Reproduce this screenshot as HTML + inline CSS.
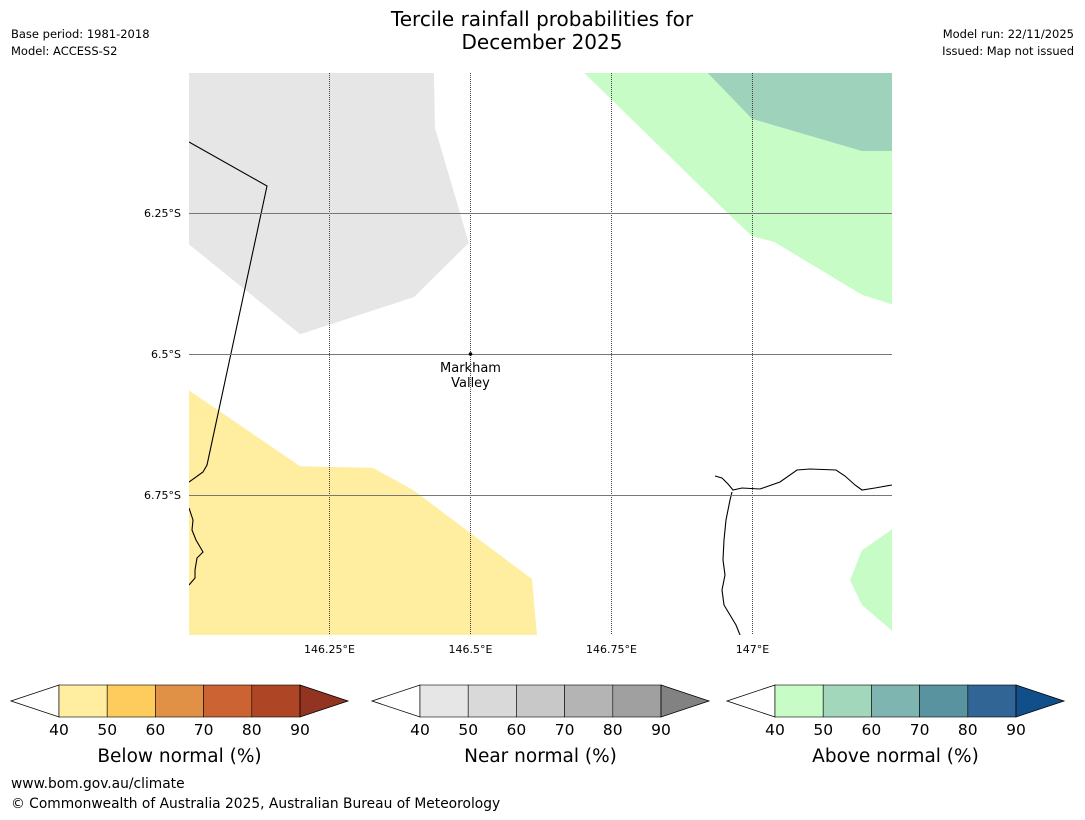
<!DOCTYPE html>
<html><head><meta charset="utf-8"><style>
body{margin:0;background:#fff;width:1085px;height:816px;overflow:hidden;font-family:"DejaVu Sans","Liberation Sans",sans-serif}
svg text{font-family:"DejaVu Sans","Liberation Sans",sans-serif}
</style></head><body>
<svg id="s" width="1085" height="816" xmlns="http://www.w3.org/2000/svg">
<text x="542" y="26" font-size="20" text-anchor="middle">Tercile rainfall probabilities for</text>
<text x="542" y="49" font-size="20" text-anchor="middle">December 2025</text>
<text x="11" y="38" font-size="11.5">Base period: 1981-2018</text>
<text x="11" y="55" font-size="11.5">Model: ACCESS-S2</text>
<text x="1074" y="38" font-size="11.5" text-anchor="end">Model run: 22/11/2025</text>
<text x="1074" y="55" font-size="11.5" text-anchor="end">Issued: Map not issued</text>
<defs><clipPath id="mc"><rect x="189" y="73" width="703" height="562"/></clipPath></defs>
<g id="map" clip-path="url(#mc)"></g>
<g id="grid"></g>
<g id="bars"></g>
<text x="11" y="788" font-size="13.8">www.bom.gov.au/climate</text>
<text x="11" y="808" font-size="13.8">© Commonwealth of Australia 2025, Australian Bureau of Meteorology</text>
</svg>
<script>
const NS="http://www.w3.org/2000/svg";
const lonTicks=[146.25,146.5,146.75,147.0];
const lonLabels=["146.25°E","146.5°E","146.75°E","147°E"];
const latTicks=[6.25,6.5,6.75];
const latLabels=["6.25°S","6.5°S","6.75°S"];
const regionNear40=[[146.001,6.0],[146.435,6.0],[146.437,6.099],[146.497,6.303],[146.400,6.399],[146.198,6.465],[146.0,6.305]];
const regionBelow40=[[146.0,6.564],[146.198,6.699],[146.327,6.702],[146.398,6.741],[146.609,6.899],[146.618,7.0],[146.0,7.0]];
const regionAbove40a=[[146.700,6.0],[147.25,6.0],[147.25,6.413],[147.194,6.395],[147.038,6.301],[146.999,6.291],[146.960,6.254]];
const regionAbove50=[[146.919,6.0],[147.25,6.0],[147.25,6.140],[147.194,6.140],[146.999,6.083]];
const regionAbove40b=[[147.25,6.809],[147.194,6.848],[147.173,6.901],[147.194,6.945],[147.25,6.993]];
const town={name:["Markham","Valley"],lon:146.5,lat:6.5};
const px=lon=>188.5+(lon-146)*564, py=lat=>72+(lat-6)*564;
const map=document.getElementById('map'),grid=document.getElementById('grid'),bars=document.getElementById('bars');
function poly(g,pts,fill,name){const p=document.createElementNS(NS,'polygon');
p.setAttribute('points',pts.map(d=>px(d[0])+','+py(d[1])).join(' '));p.setAttribute('fill',fill);


g.appendChild(p);}
poly(map,regionNear40,'#e6e6e6','near-normal-40-region');
poly(map,regionBelow40,'#ffeda0','below-normal-40-region');
poly(map,regionAbove40a,'#c7fcc7','above-normal-40-region-north');
poly(map,regionAbove50,'#9fd2bb','above-normal-50-region');
poly(map,regionAbove40b,'#c7fcc7','above-normal-40-region-south');
function path(g,d,name){const p=document.createElementNS(NS,'path');p.setAttribute('d',d);p.setAttribute('fill','none');p.setAttribute('stroke','#000');p.setAttribute('stroke-width','1.1');


g.appendChild(p);}
path(map,'M189,142 L267,186 L207,465 L203,472 L189,482','border-line');
path(map,'M189,508 L193,520 L192,530 L196,540 L203,552 L197,558 L195,570 L195,578 L189,585','coastline-west');
path(map,'M715,476 L722,478 L728,484 L733,490 L742,488 L760,489 L780,482 L797,470 L810,469 L836,470 L845,476 L855,485 L862,490 L875,488 L892,485','coastline-north');
path(map,'M732,492 L730,500 L726,520 L724,540 L723,560 L725,575 L722,590 L724,605 L736,625 L740,635','coastline-south');
lonTicks.forEach((v,i)=>{const l=document.createElementNS(NS,'line');l.setAttribute('x1',px(v));l.setAttribute('x2',px(v));l.setAttribute('y1',73);l.setAttribute('y2',635);l.setAttribute('stroke','#444');l.setAttribute('stroke-width','1');l.setAttribute('stroke-dasharray','1,1');


grid.appendChild(l);
const t=document.createElementNS(NS,'text');t.setAttribute('x',px(v));t.setAttribute('y',653);t.setAttribute('font-size','11');t.setAttribute('text-anchor','middle');t.textContent=lonLabels[i];


grid.appendChild(t);});
latTicks.forEach((v,i)=>{const l=document.createElementNS(NS,'line');l.setAttribute('x1',189);l.setAttribute('x2',892);l.setAttribute('y1',py(v)+0.5);l.setAttribute('y2',py(v)+0.5);l.setAttribute('stroke','#777');l.setAttribute('stroke-width','1');


grid.appendChild(l);
const t=document.createElementNS(NS,'text');t.setAttribute('x',181);t.setAttribute('y',py(v)+4);t.setAttribute('font-size','11');t.setAttribute('text-anchor','end');t.textContent=latLabels[i];


grid.appendChild(t);});
const dot=document.createElementNS(NS,'circle');dot.setAttribute('cx',px(town.lon));dot.setAttribute('cy',py(town.lat));dot.setAttribute('r','1.8');


grid.appendChild(dot);
town.name.forEach((n,i)=>{const t=document.createElementNS(NS,'text');t.setAttribute('x',px(town.lon));t.setAttribute('y',py(town.lat)+18+i*15);t.setAttribute('font-size','13');t.setAttribute('text-anchor','middle');t.textContent=n;


grid.appendChild(t);});
const cbTicks=[40,50,60,70,80,90];
const cbBelow=['#ffeda0','#fecc5c','#e09146','#cc6332','#ae4625','#933321'];
const cbNear=['#e6e6e6','#d9d9d9','#c8c8c8','#b4b4b4','#a0a0a0','#828282'];
const cbAbove=['#c7fcc7','#a3d7bb','#7fb5b0','#5a93a0','#306596','#114f8a'];
const cbTitles=['Below normal (%)','Near normal (%)','Above normal (%)'];
const cbX=[11,372,727];
[cbBelow,cbNear,cbAbove].forEach((cols,k)=>{const x0=cbX[k],bx=x0+48,w=48.2,y0=685,y1=717,ym=701;
const g=document.createElementNS(NS,'g');


bars.appendChild(g);
const lt=document.createElementNS(NS,'polygon');lt.setAttribute('points',`${x0},${ym} ${bx},${y0} ${bx},${y1}`);lt.setAttribute('fill','#fff');lt.setAttribute('stroke','#000');lt.setAttribute('stroke-width','0.8');


g.appendChild(lt);
cols.slice(0,5).forEach((c,i)=>{const r=document.createElementNS(NS,'rect');r.setAttribute('x',bx+i*w);r.setAttribute('y',y0);r.setAttribute('width',w);r.setAttribute('height',y1-y0);r.setAttribute('fill',c);r.setAttribute('stroke','#000');r.setAttribute('stroke-width','0.6');


g.appendChild(r);});
const ex=bx+5*w;const rt=document.createElementNS(NS,'polygon');rt.setAttribute('points',`${ex},${y0} ${ex+48},${ym} ${ex},${y1}`);rt.setAttribute('fill',cols[5]);rt.setAttribute('stroke','#000');rt.setAttribute('stroke-width','0.8');


g.appendChild(rt);
cbTicks.forEach((v,i)=>{const t=document.createElementNS(NS,'text');t.setAttribute('x',bx+i*w);t.setAttribute('y',735);t.setAttribute('font-size','15.5');t.setAttribute('text-anchor','middle');t.textContent=v;


g.appendChild(t);});
const tt=document.createElementNS(NS,'text');tt.setAttribute('x',bx+2.5*w);tt.setAttribute('y',762);tt.setAttribute('font-size','18.5');tt.setAttribute('text-anchor','middle');tt.textContent=cbTitles[k];


g.appendChild(tt);});
</script>
</body></html>
